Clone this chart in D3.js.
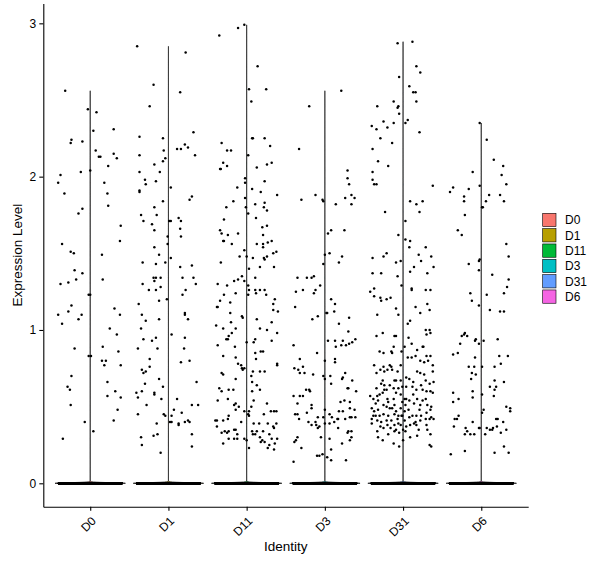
<!DOCTYPE html>
<html><head><meta charset="utf-8">
<script src="https://cdn.jsdelivr.net/npm/d3@7"></script>
<style>
body{margin:0;background:#fff}
svg{display:block}
text{font-family:"Liberation Sans",Arial,Helvetica,sans-serif;fill:#000}
</style></head><body>
<svg id="chart" width="600" height="568"></svg>
<script>
// ---------------- data ----------------
const categories = ["D0","D1","D11","D3","D31","D6"];
const groupColors = ["#F8766D","#B79F00","#00BA38","#00BFC4","#619CFF","#F564E3"];
const yTickValues = [0,1,2,3];
const xTitle = "Identity";
const yTitle = "Expression Level";
// estimated number of cells with zero expression in each identity
const zeroCounts = [1800,1600,1300,1500,1200,1700];
// non-zero cells: [jitter offset (category units), expression level]
const ptsD0 = [[-0.32,2.56],[-0.03,2.44],[0.08,2.42],[0.04,2.30],[0.30,2.31],[-0.24,2.24],[-0.25,2.22],[-0.10,2.23],[0.07,2.17],[0.11,2.13],[0.13,2.13],[0.30,2.15],[0.34,2.12],[0.23,2.07],[-0.12,2.03],[0.00,2.04],[-0.38,2.01],[-0.41,1.96],[0.18,1.96],[-0.33,1.89],[0.22,1.89],[0.23,1.81],[-0.10,1.79],[-0.15,1.76],[0.39,1.68],[0.38,1.58],[-0.36,1.56],[-0.25,1.51],[-0.21,1.50],[0.15,1.49],[-0.20,1.39],[-0.10,1.37],[-0.18,1.33],[0.16,1.33],[-0.28,1.31],[-0.38,1.30],[-0.02,1.23],[0.00,1.23],[-0.24,1.16],[0.31,1.14],[-0.28,1.12],[-0.41,1.10],[-0.11,1.10],[0.38,1.10],[-0.36,1.04],[-0.15,1.07],[0.25,1.01],[0.34,0.97],[-0.20,0.88],[0.16,0.89],[0.36,0.86],[-0.02,0.83],[0.01,0.83],[0.15,0.80],[0.20,0.80],[0.18,0.77],[0.39,0.77],[-0.24,0.70],[0.22,0.66],[-0.29,0.63],[-0.26,0.61],[0.32,0.60],[0.22,0.57],[0.39,0.56],[-0.25,0.51],[0.35,0.48],[0.30,0.41],[-0.07,0.40],[0.04,0.34],[-0.35,0.29]];
const ptsD1 = [[-0.40,2.85],[0.22,2.81],[-0.19,2.60],[0.15,2.55],[-0.24,2.46],[0.32,2.29],[-0.37,2.26],[-0.07,2.25],[0.21,2.21],[0.25,2.19],[0.11,2.18],[0.16,2.18],[-0.06,2.17],[0.34,2.14],[-0.37,2.14],[-0.04,2.12],[-0.07,2.10],[-0.18,2.08],[-0.11,2.03],[-0.37,2.03],[-0.30,1.98],[-0.29,1.95],[-0.16,1.97],[0.03,1.93],[-0.37,1.91],[-0.37,1.90],[0.30,1.87],[0.27,1.85],[-0.07,1.84],[-0.18,1.80],[-0.35,1.75],[-0.15,1.75],[0.13,1.73],[0.03,1.71],[0.01,1.71],[0.16,1.71],[-0.32,1.71],[-0.21,1.69],[0.15,1.66],[-0.18,1.65],[-0.01,1.61],[0.16,1.61],[-0.01,1.56],[-0.18,1.54],[-0.12,1.49],[0.03,1.47],[-0.33,1.44],[-0.16,1.43],[-0.04,1.44],[0.15,1.41],[0.30,1.42],[0.18,1.34],[0.32,1.34],[-0.19,1.34],[-0.16,1.34],[-0.10,1.34],[-0.18,1.32],[-0.33,1.30],[0.35,1.30],[-0.10,1.28],[0.22,1.26],[-0.16,1.26],[-0.25,1.26],[0.18,1.23],[-0.12,1.19],[-0.02,1.20],[-0.38,1.17],[0.21,1.11],[0.21,1.10],[-0.34,1.10],[0.25,1.07],[-0.29,1.06],[-0.12,1.07],[-0.35,1.01],[0.04,0.97],[-0.16,0.95],[0.21,0.95],[-0.32,0.94],[-0.21,0.93],[-0.14,0.88],[-0.39,0.88],[0.20,0.88],[-0.24,0.81],[0.16,0.79],[0.27,0.80],[-0.24,0.76],[-0.34,0.74],[-0.32,0.72],[-0.29,0.73],[-0.12,0.68],[0.36,0.66],[-0.30,0.65],[-0.07,0.63],[-0.41,0.59],[-0.34,0.60],[-0.18,0.59],[-0.18,0.58],[-0.39,0.56],[-0.09,0.55],[0.11,0.55],[-0.28,0.51],[0.30,0.51],[0.38,0.51],[0.07,0.48],[0.17,0.46],[-0.39,0.45],[-0.06,0.45],[-0.04,0.44],[0.04,0.44],[0.02,0.40],[0.04,0.40],[0.13,0.39],[0.13,0.38],[0.21,0.40],[0.25,0.41],[0.27,0.40],[-0.15,0.39],[0.30,0.32],[-0.19,0.31],[-0.14,0.32],[-0.35,0.30],[0.30,0.24],[-0.34,0.25],[-0.10,0.20]];
const ptsD11 = [[-0.03,2.99],[-0.11,2.97],[-0.35,2.92],[0.14,2.72],[0.03,2.57],[0.25,2.57],[0.06,2.49],[0.08,2.25],[0.07,2.25],[0.23,2.25],[-0.32,2.22],[0.30,2.20],[-0.25,2.17],[-0.20,2.17],[0.02,2.14],[-0.30,2.09],[-0.25,2.07],[-0.33,2.05],[-0.34,2.05],[0.26,2.08],[0.32,2.09],[0.13,2.06],[-0.02,1.99],[-0.02,1.96],[0.23,1.97],[-0.12,1.93],[0.07,1.92],[0.18,1.90],[0.39,1.88],[-0.17,1.84],[-0.02,1.86],[0.11,1.82],[0.23,1.83],[-0.26,1.80],[-0.01,1.80],[0.22,1.80],[0.26,1.78],[0.02,1.76],[-0.29,1.72],[0.12,1.73],[0.26,1.68],[0.20,1.67],[-0.34,1.65],[-0.32,1.63],[-0.24,1.62],[-0.11,1.63],[0.21,1.62],[-0.30,1.58],[-0.29,1.58],[0.13,1.56],[-0.19,1.56],[0.21,1.56],[0.27,1.57],[0.32,1.58],[0.21,1.54],[0.38,1.51],[0.34,1.50],[-0.03,1.52],[-0.09,1.48],[0.00,1.48],[0.08,1.47],[0.23,1.46],[0.26,1.48],[0.22,1.47],[-0.33,1.44],[0.17,1.41],[0.35,1.41],[0.03,1.40],[-0.11,1.33],[-0.06,1.35],[0.11,1.34],[-0.16,1.32],[-0.03,1.32],[-0.37,1.30],[-0.25,1.29],[0.02,1.29],[0.03,1.26],[0.11,1.26],[0.12,1.24],[0.17,1.26],[0.23,1.26],[0.25,1.23],[0.02,1.23],[-0.14,1.24],[-0.29,1.23],[0.36,1.20],[-0.34,1.19],[-0.21,1.18],[0.34,1.17],[0.34,1.13],[-0.38,1.15],[-0.37,1.15],[0.40,1.12],[-0.21,1.11],[-0.06,1.09],[-0.05,1.08],[0.13,1.07],[0.32,1.05],[-0.20,1.05],[-0.39,1.03],[-0.14,1.01],[-0.30,1.01],[0.17,1.01],[0.26,1.00],[0.39,0.98],[-0.19,0.98],[-0.23,0.96],[-0.26,0.94],[-0.24,0.94],[0.11,0.94],[0.32,0.93],[0.09,0.92],[0.00,0.92],[-0.37,0.90],[-0.15,0.89],[0.18,0.86],[0.21,0.86],[0.11,0.85],[-0.30,0.83],[0.12,0.81],[-0.14,0.82],[0.39,0.78],[0.39,0.77],[-0.11,0.78],[-0.07,0.77],[-0.06,0.75],[-0.03,0.75],[-0.05,0.74],[0.08,0.73],[0.17,0.73],[0.23,0.73],[-0.32,0.72],[-0.30,0.71],[-0.14,0.68],[0.06,0.70],[0.07,0.66],[0.13,0.64],[-0.35,0.62],[-0.32,0.60],[-0.23,0.61],[-0.17,0.61],[0.07,0.60],[0.17,0.61],[-0.24,0.55],[-0.37,0.54],[0.09,0.54],[-0.14,0.52],[-0.16,0.51],[0.26,0.52],[-0.10,0.50],[0.31,0.47],[0.35,0.47],[0.38,0.47],[0.06,0.50],[-0.14,0.48],[-0.03,0.47],[0.03,0.47],[0.22,0.45],[-0.23,0.44],[0.03,0.44],[0.02,0.45],[-0.40,0.41],[-0.38,0.41],[-0.30,0.41],[-0.24,0.42],[-0.07,0.40],[0.09,0.39],[0.16,0.39],[0.27,0.39],[0.38,0.39],[-0.38,0.37],[0.34,0.37],[-0.16,0.35],[-0.14,0.35],[-0.28,0.34],[-0.23,0.34],[-0.32,0.33],[-0.25,0.33],[0.07,0.34],[0.13,0.34],[0.21,0.34],[0.35,0.36],[-0.12,0.32],[0.08,0.32],[0.11,0.32],[0.17,0.30],[0.29,0.32],[-0.16,0.29],[-0.12,0.29],[-0.30,0.26],[-0.23,0.29],[-0.03,0.29],[0.00,0.28],[0.20,0.28],[0.23,0.27],[0.32,0.29],[0.39,0.29],[0.03,0.23],[0.27,0.23],[0.18,0.27],[0.29,0.25],[0.35,0.22],[0.36,0.26]];
const ptsD3 = [[0.21,2.56],[-0.20,2.46],[-0.33,2.18],[0.29,2.04],[0.29,1.99],[0.31,1.95],[-0.12,1.88],[0.34,1.88],[0.38,1.86],[0.26,1.86],[0.34,1.82],[-0.30,1.85],[-0.02,1.84],[-0.03,1.85],[0.14,1.82],[0.08,1.65],[0.25,1.65],[0.04,1.63],[0.06,1.50],[0.22,1.48],[0.18,1.44],[0.00,1.49],[-0.02,1.43],[-0.35,1.34],[-0.23,1.34],[-0.17,1.34],[-0.14,1.35],[-0.06,1.29],[-0.37,1.25],[-0.28,1.26],[-0.12,1.26],[-0.14,1.24],[0.08,1.20],[-0.38,1.15],[0.13,1.17],[0.02,1.11],[0.03,1.11],[0.12,1.12],[-0.09,1.09],[-0.16,1.07],[0.31,1.08],[0.18,1.04],[0.30,0.99],[0.04,0.93],[0.13,0.93],[0.23,0.93],[0.39,0.94],[0.35,0.92],[0.31,0.91],[0.21,0.90],[0.27,0.90],[0.14,0.89],[-0.40,0.90],[-0.10,0.85],[-0.32,0.81],[0.13,0.81],[0.13,0.79],[0.00,0.80],[-0.28,0.76],[-0.39,0.75],[-0.34,0.74],[-0.32,0.72],[-0.26,0.72],[-0.15,0.71],[-0.02,0.70],[0.00,0.68],[0.07,0.70],[0.26,0.72],[0.23,0.69],[0.22,0.68],[0.35,0.67],[0.08,0.65],[-0.24,0.61],[-0.20,0.61],[-0.19,0.60],[0.29,0.62],[0.30,0.62],[0.40,0.60],[-0.40,0.57],[-0.32,0.57],[-0.28,0.57],[0.20,0.53],[0.25,0.54],[0.32,0.53],[-0.35,0.52],[-0.17,0.51],[-0.17,0.49],[0.32,0.49],[0.38,0.48],[0.00,0.48],[0.23,0.47],[0.18,0.47],[-0.38,0.45],[-0.35,0.45],[-0.33,0.42],[-0.23,0.46],[-0.09,0.43],[-0.02,0.43],[0.06,0.45],[0.09,0.43],[0.17,0.42],[0.16,0.42],[0.26,0.42],[0.32,0.43],[0.34,0.43],[0.39,0.43],[-0.21,0.40],[-0.12,0.40],[-0.07,0.37],[-0.09,0.36],[0.00,0.39],[0.06,0.39],[0.12,0.40],[-0.17,0.38],[-0.11,0.38],[0.17,0.36],[0.30,0.34],[0.29,0.33],[0.34,0.34],[-0.35,0.30],[-0.37,0.28],[-0.05,0.30],[-0.39,0.27],[0.06,0.29],[0.22,0.26],[0.32,0.28],[0.34,0.30],[-0.30,0.23],[0.08,0.22],[-0.10,0.18],[-0.07,0.18],[-0.03,0.19],[0.03,0.17],[0.08,0.15],[0.27,0.15],[-0.40,0.14]];
const ptsD31 = [[-0.07,2.87],[0.12,2.88],[0.17,2.72],[0.22,2.68],[-0.05,2.65],[0.08,2.59],[0.13,2.55],[0.16,2.55],[0.17,2.49],[-0.12,2.49],[-0.06,2.46],[-0.07,2.45],[-0.33,2.46],[-0.05,2.41],[0.06,2.37],[0.03,2.35],[-0.25,2.36],[-0.12,2.35],[-0.20,2.32],[-0.40,2.33],[-0.34,2.31],[0.21,2.29],[-0.29,2.25],[-0.14,2.22],[-0.39,2.18],[-0.32,2.10],[-0.19,2.07],[-0.39,2.03],[-0.39,1.98],[-0.37,1.95],[-0.34,1.95],[0.38,1.94],[0.09,1.84],[0.17,1.82],[0.25,1.84],[0.21,1.77],[-0.23,1.77],[0.03,1.71],[-0.06,1.62],[0.03,1.59],[0.09,1.58],[0.08,1.54],[0.29,1.54],[0.20,1.49],[-0.25,1.48],[-0.21,1.50],[-0.39,1.47],[0.23,1.45],[0.36,1.48],[-0.09,1.44],[-0.03,1.45],[0.14,1.41],[0.39,1.41],[0.09,1.38],[-0.39,1.37],[-0.28,1.37],[0.31,1.37],[-0.07,1.35],[-0.02,1.29],[0.11,1.27],[0.11,1.26],[0.29,1.26],[0.35,1.26],[-0.42,1.25],[-0.37,1.27],[-0.37,1.22],[-0.29,1.21],[-0.28,1.19],[-0.21,1.20],[-0.16,1.21],[0.16,1.15],[0.31,1.17],[0.34,1.13],[0.22,1.11],[-0.09,1.14],[-0.06,1.10],[-0.33,1.10],[0.09,1.06],[0.06,1.04],[0.29,1.00],[0.34,1.00],[0.35,0.98],[0.30,0.97],[-0.11,0.96],[-0.09,0.96],[-0.26,0.98],[-0.34,0.96],[0.07,0.95],[0.02,0.89],[0.11,0.91],[0.25,0.89],[0.26,0.89],[0.18,0.87],[-0.12,0.89],[-0.14,0.85],[-0.15,0.86],[-0.30,0.86],[-0.25,0.85],[-0.02,0.86],[0.16,0.83],[0.06,0.82],[0.11,0.82],[0.30,0.83],[0.35,0.83],[0.22,0.80],[0.32,0.80],[0.27,0.79],[0.38,0.77],[-0.37,0.77],[-0.17,0.77],[-0.03,0.77],[-0.25,0.76],[-0.15,0.76],[-0.34,0.72],[-0.29,0.74],[-0.24,0.73],[-0.20,0.74],[-0.14,0.74],[-0.07,0.73],[0.18,0.73],[0.22,0.72],[0.27,0.71],[0.38,0.73],[0.04,0.69],[-0.26,0.67],[-0.11,0.67],[-0.09,0.67],[-0.03,0.67],[0.08,0.68],[0.13,0.66],[0.29,0.67],[0.23,0.64],[0.39,0.66],[0.34,0.65],[-0.28,0.65],[-0.24,0.64],[-0.17,0.64],[-0.34,0.62],[-0.21,0.61],[-0.12,0.62],[-0.06,0.62],[-0.01,0.63],[0.04,0.63],[0.12,0.63],[0.17,0.61],[0.25,0.61],[0.30,0.60],[0.35,0.60],[-0.42,0.57],[-0.30,0.58],[-0.26,0.59],[-0.24,0.61],[-0.33,0.57],[-0.09,0.59],[-0.03,0.58],[0.13,0.58],[0.38,0.59],[-0.38,0.55],[-0.32,0.54],[-0.20,0.55],[-0.19,0.53],[-0.12,0.55],[0.02,0.55],[0.04,0.55],[0.08,0.54],[0.18,0.55],[0.25,0.54],[0.29,0.55],[-0.40,0.49],[-0.35,0.52],[-0.25,0.51],[-0.21,0.50],[-0.11,0.51],[-0.01,0.53],[0.03,0.51],[0.14,0.52],[0.22,0.51],[0.31,0.51],[0.36,0.50],[-0.37,0.47],[-0.32,0.48],[-0.17,0.49],[-0.14,0.49],[-0.09,0.47],[-0.03,0.49],[0.02,0.47],[0.07,0.48],[0.21,0.48],[0.35,0.48],[-0.35,0.44],[-0.30,0.44],[-0.25,0.45],[-0.19,0.44],[-0.11,0.45],[-0.06,0.44],[-0.02,0.44],[-0.01,0.44],[0.08,0.43],[0.12,0.44],[0.17,0.44],[0.23,0.44],[0.30,0.46],[0.36,0.43],[-0.40,0.42],[-0.38,0.44],[-0.33,0.41],[-0.28,0.40],[-0.21,0.41],[-0.15,0.41],[-0.07,0.42],[0.02,0.41],[0.16,0.40],[0.14,0.39],[0.22,0.41],[0.29,0.42],[0.34,0.42],[0.39,0.42],[-0.40,0.39],[-0.29,0.37],[-0.20,0.38],[-0.11,0.38],[-0.06,0.39],[-0.03,0.38],[0.04,0.37],[0.09,0.38],[0.17,0.38],[0.30,0.38],[-0.33,0.34],[-0.25,0.36],[-0.16,0.36],[-0.09,0.35],[0.00,0.35],[0.03,0.34],[0.20,0.35],[0.31,0.35],[-0.32,0.30],[-0.26,0.28],[-0.19,0.32],[-0.11,0.34],[-0.05,0.33],[0.00,0.28],[0.09,0.30],[0.18,0.31],[0.35,0.32],[-0.12,0.26],[-0.05,0.24],[0.34,0.25],[0.36,0.24]];
const ptsD6 = [[-0.02,2.35],[0.07,2.24],[0.16,2.11],[0.28,2.07],[0.26,2.01],[-0.11,2.03],[0.32,1.95],[-0.02,1.94],[-0.16,1.92],[-0.36,1.93],[-0.40,1.90],[-0.22,1.87],[-0.22,1.84],[0.10,1.88],[0.24,1.88],[0.06,1.84],[0.29,1.84],[0.02,1.80],[0.01,1.80],[-0.21,1.75],[0.32,1.56],[-0.30,1.65],[-0.25,1.62],[0.35,1.48],[-0.02,1.46],[-0.03,1.45],[-0.16,1.43],[-0.03,1.39],[0.14,1.36],[0.35,1.33],[0.33,1.28],[-0.14,1.24],[0.07,1.23],[0.29,1.24],[-0.03,1.16],[-0.12,1.19],[0.11,1.13],[0.24,1.12],[0.29,1.12],[-0.22,0.97],[-0.21,0.98],[-0.25,0.96],[-0.18,0.96],[-0.07,0.94],[-0.03,0.91],[-0.08,0.93],[0.03,0.93],[0.21,0.94],[-0.27,0.91],[-0.36,0.84],[-0.30,0.85],[0.34,0.83],[0.23,0.83],[0.25,0.78],[-0.08,0.82],[-0.16,0.76],[-0.09,0.76],[0.01,0.76],[0.17,0.76],[-0.12,0.72],[-0.07,0.71],[-0.13,0.68],[0.17,0.67],[0.29,0.66],[-0.11,0.60],[-0.11,0.56],[-0.36,0.59],[-0.36,0.53],[-0.29,0.55],[0.01,0.58],[0.19,0.63],[0.17,0.61],[0.16,0.57],[0.11,0.63],[0.32,0.50],[0.37,0.49],[0.37,0.47],[0.03,0.48],[0.01,0.46],[0.19,0.42],[0.21,0.42],[0.28,0.40],[-0.34,0.42],[-0.31,0.42],[-0.29,0.44],[-0.11,0.40],[-0.35,0.37],[-0.20,0.36],[-0.18,0.34],[-0.21,0.32],[-0.14,0.32],[-0.09,0.32],[-0.03,0.36],[-0.02,0.36],[0.07,0.36],[0.11,0.35],[0.14,0.35],[0.15,0.36],[0.20,0.37],[0.32,0.35],[0.05,0.32],[0.25,0.33],[0.29,0.24],[-0.21,0.21],[-0.39,0.19],[0.17,0.20],[0.35,0.20]];
const groupPoints = [ptsD0, ptsD1, ptsD11, ptsD3, ptsD31, ptsD6];

// ---------------- layout ----------------
const svg = d3.select("#chart");
const plotLeft = 43.3, plotRight = 528.2, plotTop = 3.4, plotBottom = 506.7;

const x = d3.scalePoint().domain(categories).range([plotLeft, plotRight]).padding(0.6);
const step = x.step();
const y = d3.scaleLinear().domain([-0.1526, 3.130]).range([plotBottom, plotTop]);
const color = d3.scaleOrdinal().domain(categories).range(groupColors);

// ---------------- violins ----------------
const bw = 0.004;
const violinHalf = 0.45 * step;
const gV = svg.append("g");
categories.forEach((cat, i) => {
  const vals = groupPoints[i].map(d => d[1]);
  const n0 = zeroCounts[i];
  const vmax = d3.max(vals);
  const grid = d3.range(0, 2049).map(k => vmax * k / 2048);
  const kern = u => Math.exp(-0.5 * u * u);
  const dens = grid.map(g => {
    let s = n0 * kern(g / bw);
    for (const v of vals) s += kern((g - v) / bw);
    return s;
  });
  const dmax = d3.max(dens);
  const w = d3.scaleLinear().domain([0, dmax]).range([0, violinHalf]);
  const cx = x(cat);
  const rows = grid.map((g, k) => ({v: g, d: dens[k]}));
  const area = d3.area()
    .y(d => y(d.v))
    .x0(d => cx - w(d.d))
    .x1(d => cx + w(d.d));
  gV.append("path")
    .attr("d", area(rows))
    .attr("fill", color(cat))
    .attr("stroke", "#000")
    .attr("stroke-width", 0.7);
});

// ---------------- jittered points ----------------
const gP = svg.append("g").attr("fill", "#000");
const jitterSpan = 0.4;
const ptR = 1.25;
categories.forEach((cat, i) => {
  const cx = x(cat);
  const n0 = zeroCounts[i];
  const zeros = d3.range(n0).map(k => -jitterSpan + 2 * jitterSpan * k / (n0 - 1));
  gP.selectAll(null).data(zeros).enter().append("circle")
    .attr("cx", d => cx + d * step).attr("cy", y(0)).attr("r", ptR);
  gP.selectAll(null).data(groupPoints[i]).enter().append("circle")
    .attr("cx", d => cx + d[0] * step).attr("cy", d => y(d[1])).attr("r", ptR);
});

// ---------------- axes ----------------
const yAxis = svg.append("g").attr("transform", `translate(${plotLeft},0)`)
  .call(d3.axisLeft(y).tickValues(yTickValues).tickFormat(d3.format("d")).tickSize(4).tickSizeOuter(0).tickPadding(3));
const xAxis = svg.append("g").attr("transform", `translate(0,${plotBottom})`)
  .call(d3.axisBottom(x).tickSize(4).tickSizeOuter(0));
[yAxis, xAxis].forEach(a => {
  a.selectAll("path,line").attr("stroke", "#000").attr("stroke-width", 1.1);
  a.selectAll("text").style("font-size", "12px").attr("fill", "#000")
    .style("font-family", '"Liberation Sans",Arial,sans-serif');
});
xAxis.selectAll(".tick text")
  .attr("x", 0).attr("y", 0).attr("dy", "0.71em")
  .attr("text-anchor", "end")
  .attr("transform", "translate(0,9) rotate(-45)");

// titles
svg.append("text").attr("x", (plotLeft + plotRight) / 2).attr("y", 551.4)
  .attr("text-anchor", "middle").style("font-size", "13.5px").text(xTitle);
svg.append("text")
  .attr("transform", `translate(22,${(plotTop + plotBottom) / 2}) rotate(-90)`)
  .attr("text-anchor", "middle").style("font-size", "13.5px").text(yTitle);

// ---------------- legend ----------------
const gL = svg.append("g").attr("transform", "translate(542.7,213.3)");
const keyH = 15.33;
categories.forEach((cat, i) => {
  gL.append("rect").attr("x", 0).attr("y", i * keyH).attr("width", 13.3).attr("height", 13.3)
    .attr("fill", color(cat)).attr("stroke", "#000").attr("stroke-width", 0.6);
  gL.append("text").attr("x", 22.3).attr("y", i * keyH + 6.65).attr("dy", "0.36em")
    .style("font-size", "12px").text(cat);
});
</script>
</body></html>
